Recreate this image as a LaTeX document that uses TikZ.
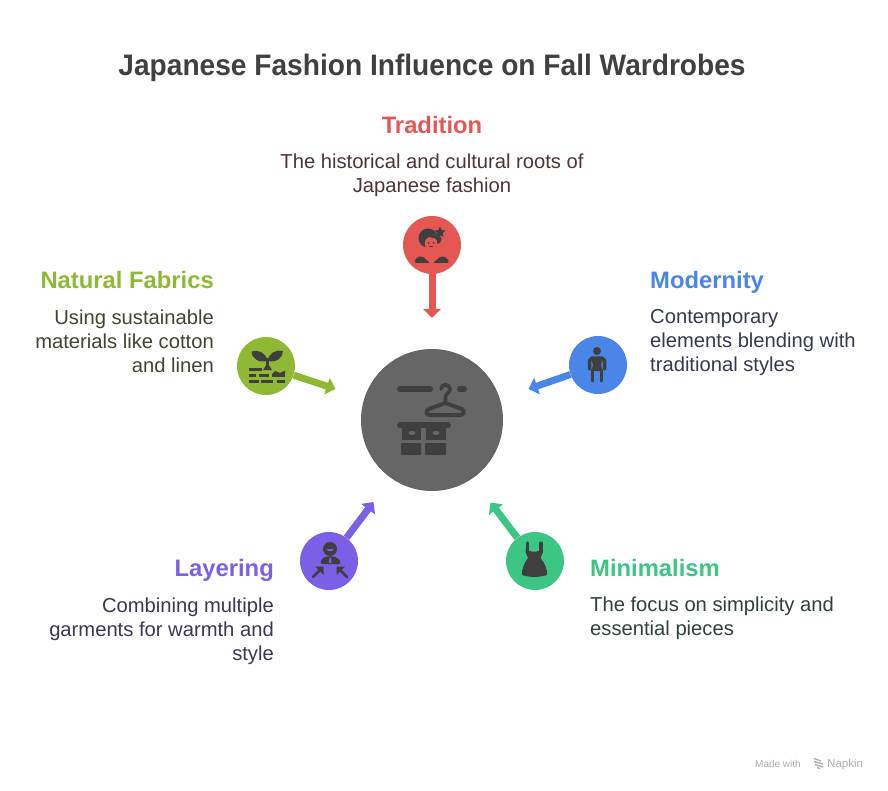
\documentclass[tikz,border=0pt]{standalone}
\usepackage{fontspec}
\setmainfont{Liberation Sans}
\newfontfamily\titlefont[FakeStretch=0.95]{Liberation Sans}
\usetikzlibrary{positioning,arrows.meta}
\definecolor{redC}{HTML}{E55753}
\definecolor{greenC}{HTML}{8FB935}
\definecolor{blueC}{HTML}{4B85E8}
\definecolor{purpleC}{HTML}{7B5FE6}
\definecolor{tealC}{HTML}{3DC585}
\definecolor{redT}{HTML}{4D3535}
\definecolor{greenT}{HTML}{3F4530}
\definecolor{blueT}{HTML}{333B4D}
\definecolor{purpleT}{HTML}{3C3650}
\definecolor{tealT}{HTML}{2F4239}
\definecolor{hubC}{HTML}{666666}
\definecolor{iconC}{HTML}{3F3F3F}
\definecolor{titleC}{HTML}{404040}
\begin{document}
\begin{tikzpicture}
[x=1pt,y=-1pt,
roundnode/.style={circle, minimum size=58pt, inner sep=0pt},
pointer/.style={line width=7pt, -{Triangle[width=17pt,length=9pt]}},
headnode/.style={inner sep=0pt, font=\fontsize{23.8}{28}\selectfont\bfseries},
textnode/.style={inner sep=0pt, font=\fontsize{20.2}{24}\selectfont, execute at begin node=\strut},
footnode/.style={inner sep=0pt, anchor=base west, text=black!32},
icon/.style={fill=iconC, draw=none},
iconline/.style={draw=iconC, line cap=round},
]
\useasboundingbox (0,0) rectangle (888,791);

\node[inner sep=0pt, anchor=base, text=titleC, font=\fontsize{29.6}{34}\selectfont\titlefont\bfseries] (title) at (432,76) {Japanese Fashion Influence on Fall Wardrobes};

% circles
\node[circle, fill=hubC, minimum size=142pt, inner sep=0pt] (hub) at (432,420) {};
\node[roundnode, fill=redC] (tradition) at (432,245) {};
\node[roundnode, fill=greenC] (natural) at (266,366) {};
\node[roundnode, fill=blueC] (modernity) at (598,365) {};
\node[roundnode, fill=purpleC] (layering) at (329,561) {};
\node[roundnode, fill=tealC] (minimalism) at (535,561) {};

% arrows
\coordinate (traditionEnd) at (432,318);
\coordinate (naturalEnd) at (335.5,389);
\coordinate (modernityEnd) at (528.5,389);
\coordinate (layeringEnd) at (373.5,502);
\coordinate (minimalismEnd) at (490.5,502.5);
\draw[pointer, redC] (tradition) -- (traditionEnd);
\draw[pointer, greenC] (natural) -- (naturalEnd);
\draw[pointer, blueC] (modernity) -- (modernityEnd);
\draw[pointer, purpleC] (layering) -- (layeringEnd);
\draw[pointer, tealC] (minimalism) -- (minimalismEnd);

% labels
\node[headnode, text=redC, anchor=base] (traditionHead) at (432,133.5) {Tradition};
\node[textnode, text=redT, align=center] (traditionText) [below=20.4pt of traditionHead.base] {The historical and cultural roots of\\Japanese fashion};

\node[headnode, text=greenC, anchor=base east] (naturalHead) at (214,289) {Natural Fabrics};
\node[textnode, text=greenT, align=right, below=20.4pt of naturalHead.base east, anchor=north east] (naturalText) {Using sustainable\\materials like cotton\\and linen};

\node[headnode, text=blueC, anchor=base west] (modernityHead) at (650,289) {Modernity};
\node[textnode, text=blueT, align=left, below=20.4pt of modernityHead.base west, anchor=north west] (modernityText) {Contemporary\\elements blending with\\traditional styles};

\node[headnode, text=purpleC, anchor=base east] (layeringHead) at (274,576.5) {Layering};
\node[textnode, text=purpleT, align=right, below=20.9pt of layeringHead.base east, anchor=north east] (layeringText) {Combining multiple\\garments for warmth and\\style};

\node[headnode, text=tealC, anchor=base west] (minimalismHead) at (590,576.5) {Minimalism};
\node[textnode, text=tealT, align=left, below=20.4pt of minimalismHead.base west, anchor=north west] (minimalismText) {The focus on simplicity and\\essential pieces};

% hub icon
\draw[iconline, line width=6pt] (400,389) -- (430,389);
\draw[iconline, line width=6pt] (460,389) -- (464,389);
\draw[iconline, line width=3.6pt] (441,389) .. controls (441,383.5) and (450,383.5) .. (450,389) .. controls (450,393) and (445.5,393) .. (445.5,397) -- (445.5,403);
\draw[iconline, line width=4pt, line join=round] (445.5,403) -- (429,409) .. controls (425,411) and (426,415) .. (430,415) -- (460,415) .. controls (464,415) and (465,411) .. (462,409) -- cycle;
\draw[iconline, line width=6pt] (400,425) -- (448,425);
\fill[icon] (402,427) rectangle (421,440);
\fill[icon] (426,427) rectangle (446,440);
\fill[icon, rounded corners=1pt] (401,443) rectangle (421,455);
\fill[icon, rounded corners=1pt] (425,443) rectangle (446,455);
\fill[hubC] (412,433) ellipse (3.5 and 2);
\fill[hubC] (436,433) ellipse (3.5 and 2);

% tradition icon
\fill[icon] (428,238) circle (9.5);
\fill[icon] (436,239) circle (5.5);
\fill[redC] (431,243.5) ellipse (6.3 and 6.7);
\fill[icon] (424,236) -- (438,239) -- (434,233) -- (426,233) -- cycle;
\fill[icon] (428.5,243) circle (1);
\fill[icon] (433.5,243) circle (1);
\draw[iconline, line width=1pt] (429.5,247) -- (432.5,247);
\fill[redC] (440,225) circle (7);
\fill[icon] (440,226.5) -- (441.7,230) -- (445.5,230.5) -- (442.7,233.2) -- (443.5,237) -- (440,235.2) -- (436.5,237) -- (437.3,233.2) -- (434.5,230.5) -- (438.3,230) -- cycle;
\fill[icon, rounded corners=2pt] (414.5,263) -- (415.5,258) -- (422,256) -- (430,263) -- cycle;
\fill[icon, rounded corners=2pt] (433,263) -- (441,256) -- (447.5,258) -- (449,263) -- cycle;

% natural icon
\fill[icon] (251.5,351.5) .. controls (258,349) and (267,353) .. (267,361) .. controls (259,363) and (252,359) .. (251.5,351.5) -- cycle;
\fill[icon] (283,351) .. controls (277,349) and (268,353) .. (268,361) .. controls (276,363) and (283,358) .. (283,351) -- cycle;
\draw[iconline, line width=2.5pt, line cap=butt] (267.5,358) -- (267.5,369);
\fill[icon] (263,370) -- (272,370) -- (269.5,366) -- (265.5,366) -- cycle;
\fill[icon] (249,367.5) rectangle (262,371);
\fill[icon] (249,373.5) rectangle (256,377);
\fill[icon] (258.5,373.5) rectangle (268.5,377);
\fill[icon] (272,374) -- (285,374) -- (285,370.5) -- (280,373) -- (275,371) -- cycle;
\fill[icon] (272,373.5) rectangle (285,377);
\fill[icon] (249,379.5) rectangle (258.5,383);
\fill[icon] (261,379.5) rectangle (273,383);
\fill[icon] (276.5,379.5) rectangle (285,383);

% modernity icon
\fill[icon] (597,351) circle (4);
\draw[iconline, line width=3.5pt, line join=round] (589.5,369) -- (589.5,360.5) -- (592,358) -- (602,358) -- (604.5,360.5) -- (604.5,369);
\fill[icon] (591,358) -- (603,358) -- (601,365) -- (602.5,371) -- (591.5,371) -- (593,365) -- cycle;
\draw[iconline, line width=3.2pt] (592.7,370) -- (592.7,381);
\draw[iconline, line width=3.2pt] (601.3,370) -- (601.3,381);

% layering icon
\fill[icon] (330,549) circle (7);
\fill[purpleC] (326.5,549) .. controls (328,552) and (332,552) .. (334,549) -- cycle;
\fill[icon, rounded corners=2pt] (320.5,564) .. controls (321,559) and (324,557) .. (330,556) .. controls (336,557) and (340,559) .. (340.5,564) -- cycle;
\fill[purpleC] (329.5,558) -- (331,558) -- (331.5,563) -- (329,563) -- cycle;
\draw[iconline, line width=2.6pt] (313,577) -- (321,569);
\fill[icon] (323.5,566.5) -- (323.5,575) -- (315,566.5) -- cycle;
\draw[iconline, line width=2.6pt] (347,577) -- (339,569);
\fill[icon] (336.5,566.5) -- (336.5,575) -- (345,566.5) -- cycle;

% minimalism icon
\draw[iconline, line width=3.2pt] (527.5,543) -- (527.5,552);
\draw[iconline, line width=3.2pt] (541,543) -- (541,552);
\fill[icon] (526,548) .. controls (528,553) and (540,553) .. (542.5,548) -- (543,552) -- (540.5,558) .. controls (545,563) and (547.5,570) .. (547,575) .. controls (540,577.5) and (529,577.5) .. (522,575) .. controls (521.5,570) and (524,563) .. (528,558) -- (525.5,552) -- cycle;

% footer
\node[footnode, font=\fontsize{10}{12}\selectfont] (madeWith) at (755,767) {Made with};
\node[footnode, font=\fontsize{11.5}{12}\selectfont] (napkin) at (827,767) {Napkin};
\draw[black!32, line width=1.3pt] (814,758.5) -- (821,761) (814,761.5) -- (823,764) (815,764.5) -- (823,767) (817,767.5) -- (820,768.5);
\end{tikzpicture}
\end{document}
